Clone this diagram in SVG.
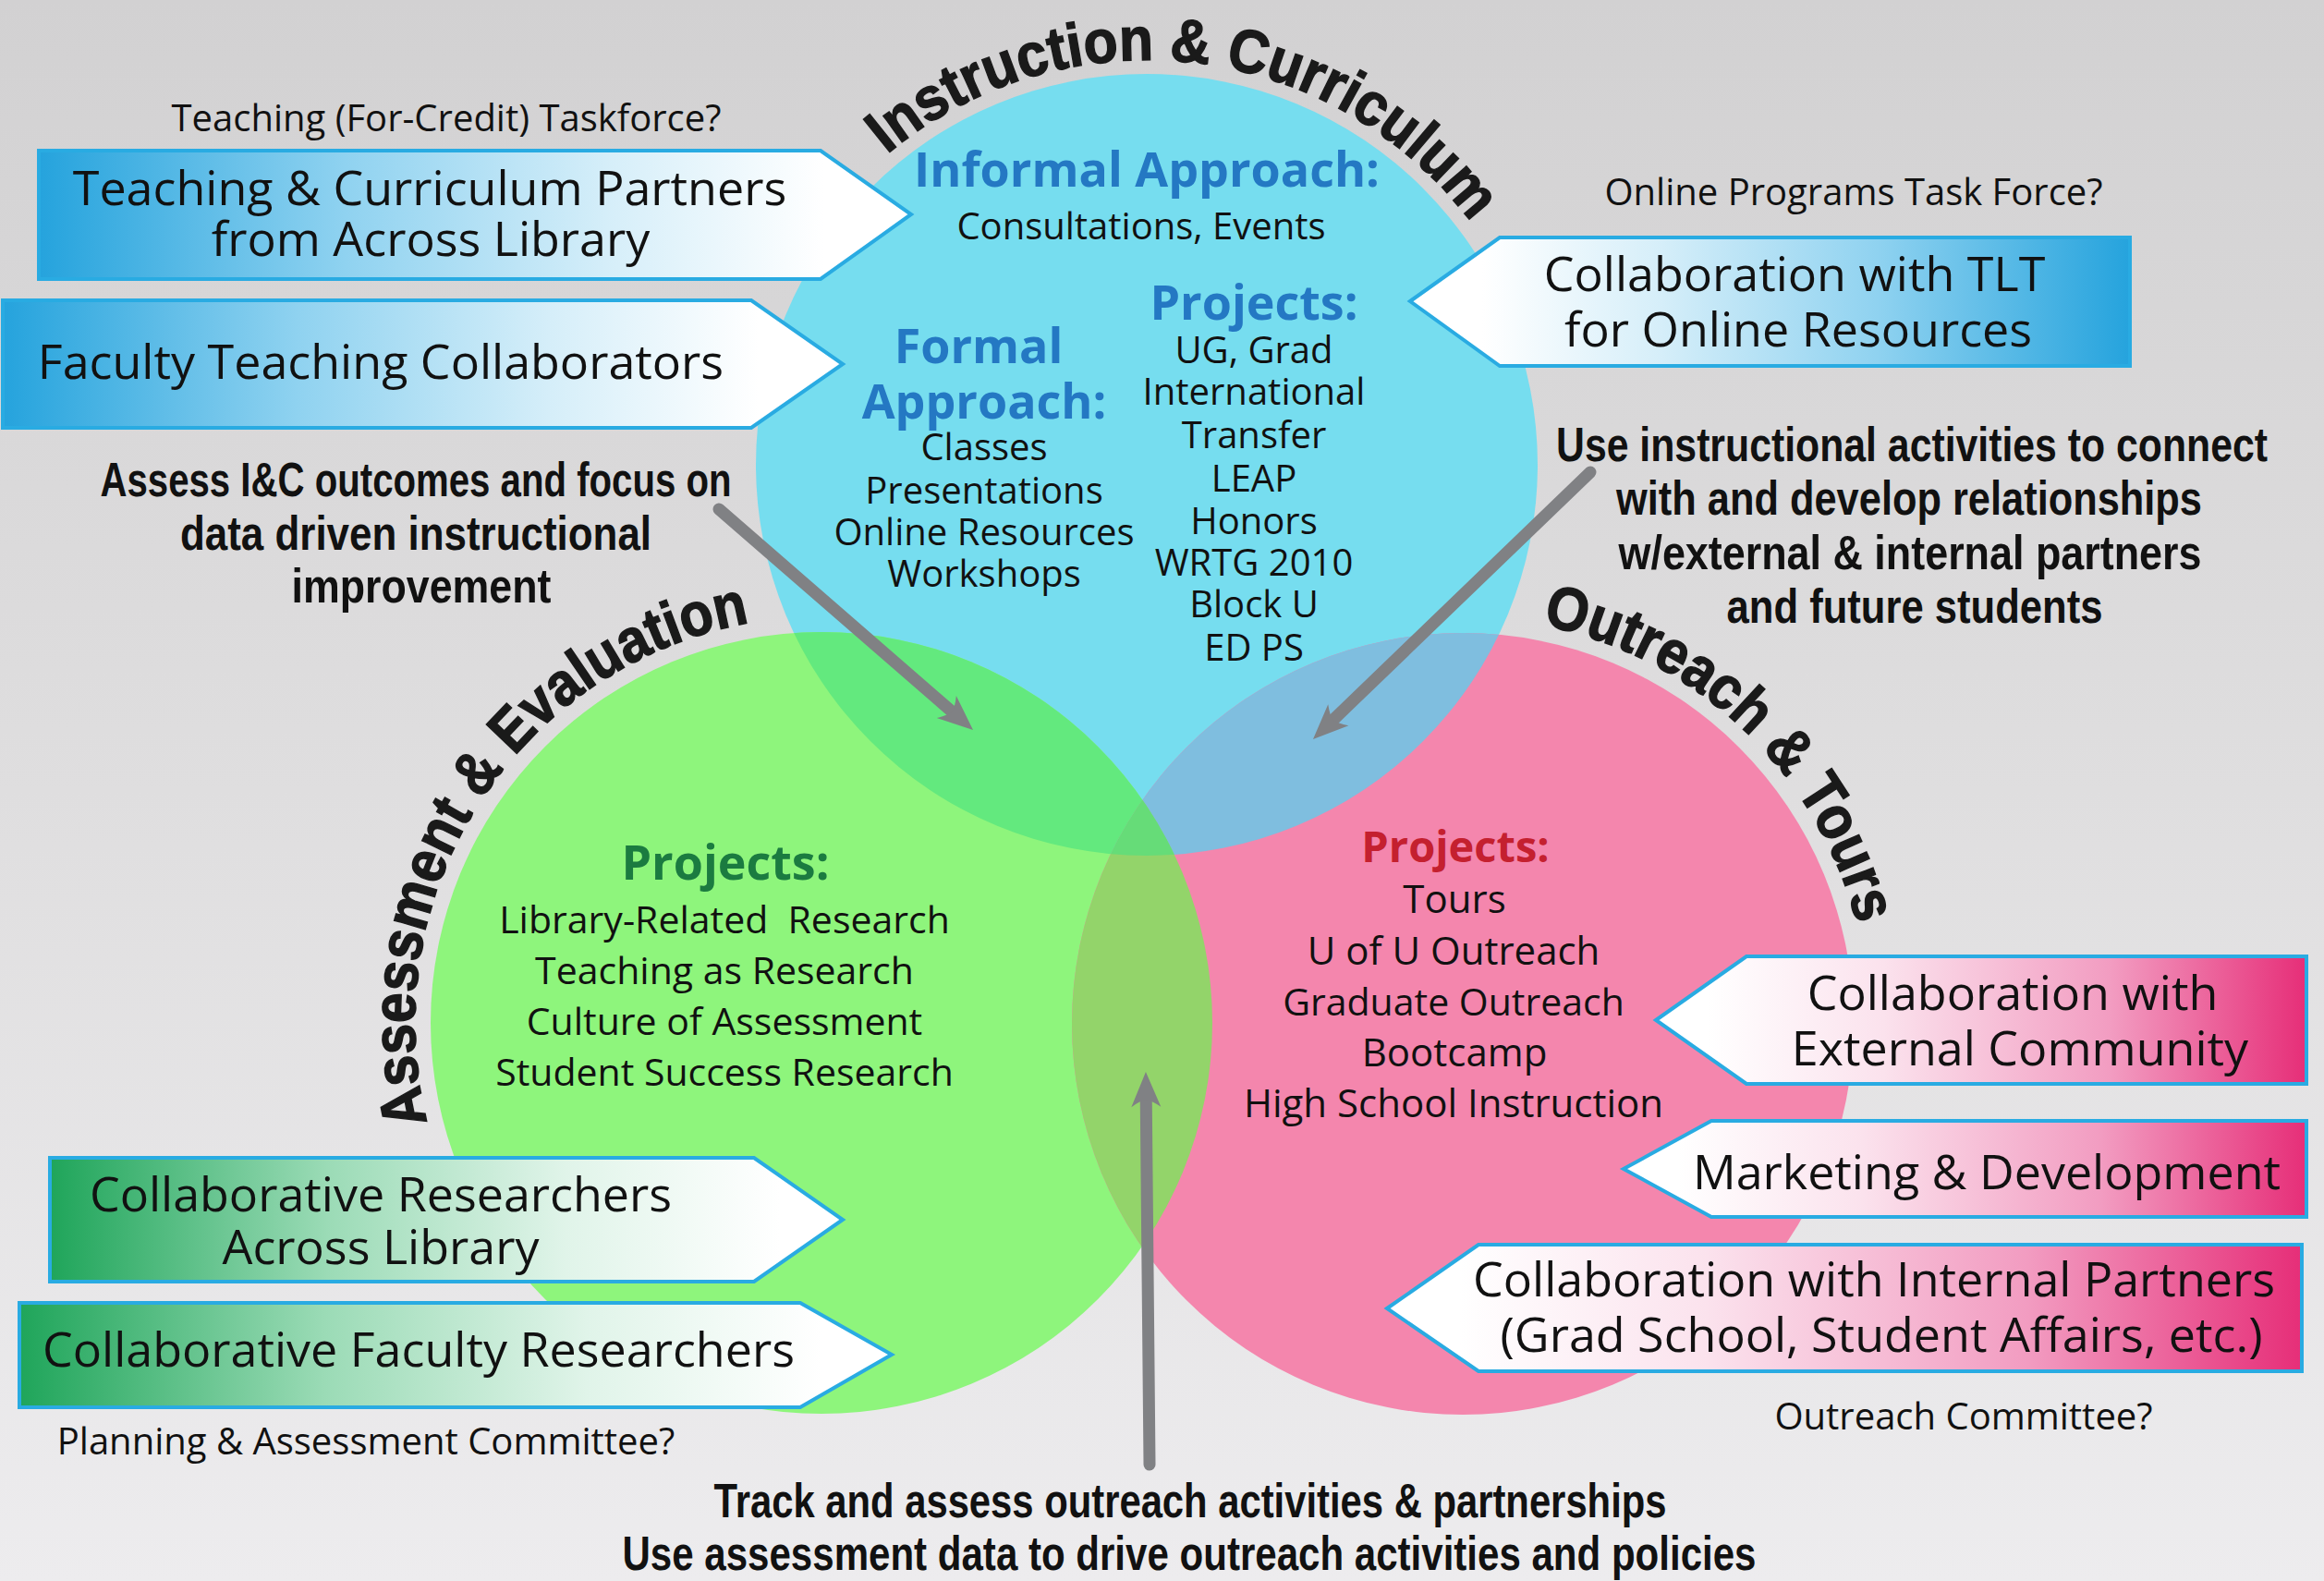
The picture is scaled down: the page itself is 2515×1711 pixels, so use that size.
<svg xmlns="http://www.w3.org/2000/svg" width="2515" height="1711" viewBox="0 0 2515 1711">
<defs>
  <linearGradient id="bg" x1="0" y1="0" x2="0" y2="1">
    <stop offset="0" stop-color="#d2d1d2"/>
    <stop offset="0.5" stop-color="#dfdedf"/>
    <stop offset="1" stop-color="#edecee"/>
  </linearGradient>
  <linearGradient id="gBlueR" x1="0" y1="0" x2="1" y2="0">
    <stop offset="0" stop-color="#25a3dd"/>
    <stop offset="0.35" stop-color="#8fd2f0"/>
    <stop offset="0.65" stop-color="#d5eef9"/>
    <stop offset="0.9" stop-color="#ffffff"/>
  </linearGradient>
  <linearGradient id="gBlueL" x1="1" y1="0" x2="0" y2="0">
    <stop offset="0" stop-color="#25a3dd"/>
    <stop offset="0.35" stop-color="#8fd2f0"/>
    <stop offset="0.65" stop-color="#d5eef9"/>
    <stop offset="0.9" stop-color="#ffffff"/>
  </linearGradient>
  <linearGradient id="gGreen" x1="0" y1="0" x2="1" y2="0">
    <stop offset="0" stop-color="#1fa55a"/>
    <stop offset="0.35" stop-color="#9bdbb6"/>
    <stop offset="0.65" stop-color="#e0f4e9"/>
    <stop offset="0.92" stop-color="#ffffff"/>
  </linearGradient>
  <linearGradient id="gPink" x1="1" y1="0" x2="0" y2="0">
    <stop offset="0" stop-color="#e62e78"/>
    <stop offset="0.3" stop-color="#f29cc1"/>
    <stop offset="0.65" stop-color="#fbe2ed"/>
    <stop offset="0.92" stop-color="#ffffff"/>
  </linearGradient>
  <clipPath id="cBlue"><circle cx="1241" cy="503" r="423"/></clipPath>
  <clipPath id="cGreen"><circle cx="889" cy="1107" r="423"/></clipPath>
  <marker id="ah" markerUnits="userSpaceOnUse" viewBox="-14 -18 42 36" markerWidth="42" markerHeight="36" refX="0" refY="0" orient="auto">
    <path d="M26,0 L-12,-16 Q-5,-6 -4,0 Q-5,6 -12,16 Z" fill="#808184"/>
  </marker>
  <path id="pIC" d="M803,503 A438,438 0 0 1 1679,503"/>
  <path id="pAE" d="M889,1547 A440,440 0 0 1 449,1107 A440,440 0 0 1 1329,1107"/>
  <path id="pOT" d="M1583,668 A440,440 0 0 1 2023,1108 A440,440 0 0 1 1583,1548"/>
</defs>
<style>
  .t { font-family: 'Open Sans', 'Liberation Sans', sans-serif; fill: #111; text-anchor: middle; }
  .lbl { font-size: 40px; }
  .box { font-size: 52px; }
  .lst { font-size: 40px; }
  .hd { font-family: 'Open Sans', 'Liberation Sans', sans-serif; font-weight: 700; font-size: 52px; text-anchor: middle; }
  .blue { fill: #2478c3; }
  .green { fill: #1b7b40; }
  .pink { fill: #c4202f; }
  .stmt { font-family: 'Liberation Sans Narrow', 'Arial Narrow', 'Liberation Sans', sans-serif; font-weight: 700; font-size: 52px; text-anchor: middle; fill: #111; }
  .ttl { font-family: 'Liberation Sans', Arial, sans-serif; font-weight: 700; font-size: 66px; fill: #1a1a1a; stroke: #1a1a1a; stroke-width: 1.5; text-anchor: middle; }
  .callout { stroke: #29abe2; stroke-width: 4; stroke-linejoin: miter; }
  .arrow { stroke: #808184; stroke-width: 13; fill: none; stroke-linecap: round; marker-end: url(#ah); }
</style>

<rect x="0" y="0" width="2515" height="1711" fill="url(#bg)"/>

<g id="node-instruction">
  <circle cx="1241" cy="503" r="423" fill="#76ddef"/>
  <text class="ttl"><textPath href="#pIC" startOffset="53.7%" textLength="712" lengthAdjust="spacingAndGlyphs">Instruction &amp; Curriculum</textPath></text>
  <text class="hd blue" x="1241" y="202">Informal Approach:</text>
  <text class="t lst" x="1235" y="259">Consultations, Events</text>
  <text class="hd blue" x="1357" y="346">Projects:</text>
  <text class="hd blue" x="1059" y="393">Formal</text>
  <text class="hd blue" x="1065" y="453">Approach:</text>
  <text class="t lst" x="1065" y="498">Classes</text>
  <text class="t lst" x="1065" y="545">Presentations</text>
  <text class="t lst" x="1065" y="590">Online Resources</text>
  <text class="t lst" x="1065" y="635">Workshops</text>
  <text class="t lst" x="1357" y="393">UG, Grad</text>
  <text class="t lst" x="1357" y="438">International</text>
  <text class="t lst" x="1357" y="485">Transfer</text>
  <text class="t lst" x="1357" y="532">LEAP</text>
  <text class="t lst" x="1357" y="578">Honors</text>
  <text class="t lst" x="1357" y="623">WRTG 2010</text>
  <text class="t lst" x="1357" y="668">Block U</text>
  <text class="t lst" x="1357" y="715">ED PS</text>
</g>

<g id="node-assessment">
  <circle cx="889" cy="1107" r="423" fill="#8ef57c"/>
  <text class="ttl"><textPath href="#pAE" startOffset="45.5%" textLength="722" lengthAdjust="spacingAndGlyphs">Assessment &amp; Evaluation</textPath></text>
  <text class="hd green" x="785" y="952">Projects:</text>
  <text class="t" style="font-size:41px" x="784" y="1010">Library-Related&#160; Research</text>
  <text class="t" style="font-size:41px" x="784" y="1065">Teaching as Research</text>
  <text class="t" style="font-size:41px" x="784" y="1120">Culture of Assessment</text>
  <text class="t" style="font-size:41px" x="784" y="1175">Student Success Research</text>
</g>

<g id="node-outreach">
  <circle cx="1583" cy="1108" r="423" fill="#f486ad"/>
  <text class="ttl"><textPath href="#pOT" startOffset="24.2%" textLength="496" lengthAdjust="spacingAndGlyphs">Outreach &amp; Tours</textPath></text>
  <text class="hd pink" style="font-size:47px" x="1575" y="933">Projects:</text>
  <text class="t" style="font-size:42px" x="1574" y="988">Tours</text>
  <text class="t" style="font-size:42px" x="1573" y="1044">U of U Outreach</text>
  <text class="t" style="font-size:41px" x="1573" y="1099">Graduate Outreach</text>
  <text class="t" style="font-size:42px" x="1574" y="1154">Bootcamp</text>
  <text class="t" style="font-size:42px" x="1573" y="1209">High School Instruction</text>
</g>

<g id="overlaps">
  <circle cx="889" cy="1107" r="423" fill="#63e97e" clip-path="url(#cBlue)"/>
  <circle cx="1583" cy="1108" r="423" fill="#7fbedf" clip-path="url(#cBlue)"/>
  <circle cx="1583" cy="1108" r="423" fill="#93d46a" clip-path="url(#cGreen)"/>
  <g clip-path="url(#cBlue)">
    <circle cx="1583" cy="1108" r="423" fill="#66dc78" clip-path="url(#cGreen)"/>
  </g>
</g>

<g id="connectors">
  <line class="arrow" x1="778" y1="551" x2="1033.4" y2="772.9"/>
  <line class="arrow" x1="1721" y1="511" x2="1439.7" y2="782"/>
  <line class="arrow" x1="1244" y1="1585" x2="1240.2" y2="1186"/>
</g>

<g id="box-teaching-partners">
  <polygon class="callout" points="42,163 888,163 986,232 888,302 42,302" fill="url(#gBlueR)"/>
  <text class="t box" x="465" y="222">Teaching &amp; Curriculum Partners</text>
  <text class="t box" x="466" y="277">from Across Library</text>
</g>
<g id="box-faculty-teaching">
  <polygon class="callout" points="3,325 813,325 912,394 813,463 3,463" fill="url(#gBlueR)"/>
  <text class="t box" x="412" y="410">Faculty Teaching Collaborators</text>
</g>
<g id="box-tlt">
  <polygon class="callout" points="1526,326 1623,257 2305,257 2305,396 1623,396" fill="url(#gBlueL)"/>
  <text class="t box" x="1942" y="315">Collaboration with TLT</text>
  <text class="t box" x="1946" y="375">for Online Resources</text>
</g>
<g id="box-external">
  <polygon class="callout" points="1792,1104 1890,1035 2496,1035 2496,1173 1890,1173" fill="url(#gPink)"/>
  <text class="t box" x="2178" y="1093">Collaboration with</text>
  <text class="t box" x="2186" y="1153">External Community</text>
</g>
<g id="box-marketing">
  <polygon class="callout" points="1757,1265 1852,1213 2496,1213 2496,1317 1852,1317" fill="url(#gPink)"/>
  <text class="t box" x="2150" y="1287">Marketing &amp; Development</text>
</g>
<g id="box-internal">
  <polygon class="callout" points="1501,1416 1600,1347 2491,1347 2491,1484 1600,1484" fill="url(#gPink)"/>
  <text class="t box" x="2028" y="1403">Collaboration with Internal Partners</text>
  <text class="t box" x="2036" y="1463">(Grad School, Student Affairs, etc.)</text>
</g>
<g id="box-collab-researchers">
  <polygon class="callout" points="54,1253 816,1253 912,1320 816,1387 54,1387" fill="url(#gGreen)"/>
  <text class="t box" x="412" y="1311">Collaborative Researchers</text>
  <text class="t box" x="412" y="1368">Across Library</text>
</g>
<g id="box-faculty-researchers">
  <polygon class="callout" points="21,1410 866,1410 965,1466 866,1523 21,1523" fill="url(#gGreen)"/>
  <text class="t box" x="453" y="1479">Collaborative Faculty Researchers</text>
</g>

<g id="label-teaching-taskforce"><text class="t lbl" x="483" y="142">Teaching (For-Credit) Taskforce?</text></g>
<g id="label-online-taskforce"><text class="t lbl" x="2006" y="222">Online Programs Task Force?</text></g>
<g id="label-planning-committee"><text class="t lbl" x="396" y="1574">Planning &amp; Assessment Committee?</text></g>
<g id="label-outreach-committee"><text class="t lbl" x="2125" y="1547">Outreach Committee?</text></g>

<g id="statement-assess">
  <text class="stmt" x="450" y="537" textLength="683" lengthAdjust="spacingAndGlyphs">Assess I&amp;C outcomes and focus on</text>
  <text class="stmt" x="450" y="595" textLength="510" lengthAdjust="spacingAndGlyphs">data driven instructional</text>
  <text class="stmt" x="456" y="652" textLength="281" lengthAdjust="spacingAndGlyphs">improvement</text>
</g>
<g id="statement-instructional">
  <text class="stmt" x="2069" y="499" textLength="770" lengthAdjust="spacingAndGlyphs">Use instructional activities to connect</text>
  <text class="stmt" x="2066" y="557" textLength="634" lengthAdjust="spacingAndGlyphs">with and develop relationships</text>
  <text class="stmt" x="2067" y="616" textLength="631" lengthAdjust="spacingAndGlyphs">w/external &amp; internal partners</text>
  <text class="stmt" x="2072" y="674" textLength="407" lengthAdjust="spacingAndGlyphs">and future students</text>
</g>
<g id="statement-track">
  <text class="stmt" x="1288" y="1642" textLength="1031" lengthAdjust="spacingAndGlyphs">Track and assess outreach activities &amp; partnerships</text>
  <text class="stmt" x="1287" y="1699" textLength="1227" lengthAdjust="spacingAndGlyphs">Use assessment data to drive outreach activities and policies</text>
</g>
</svg>
